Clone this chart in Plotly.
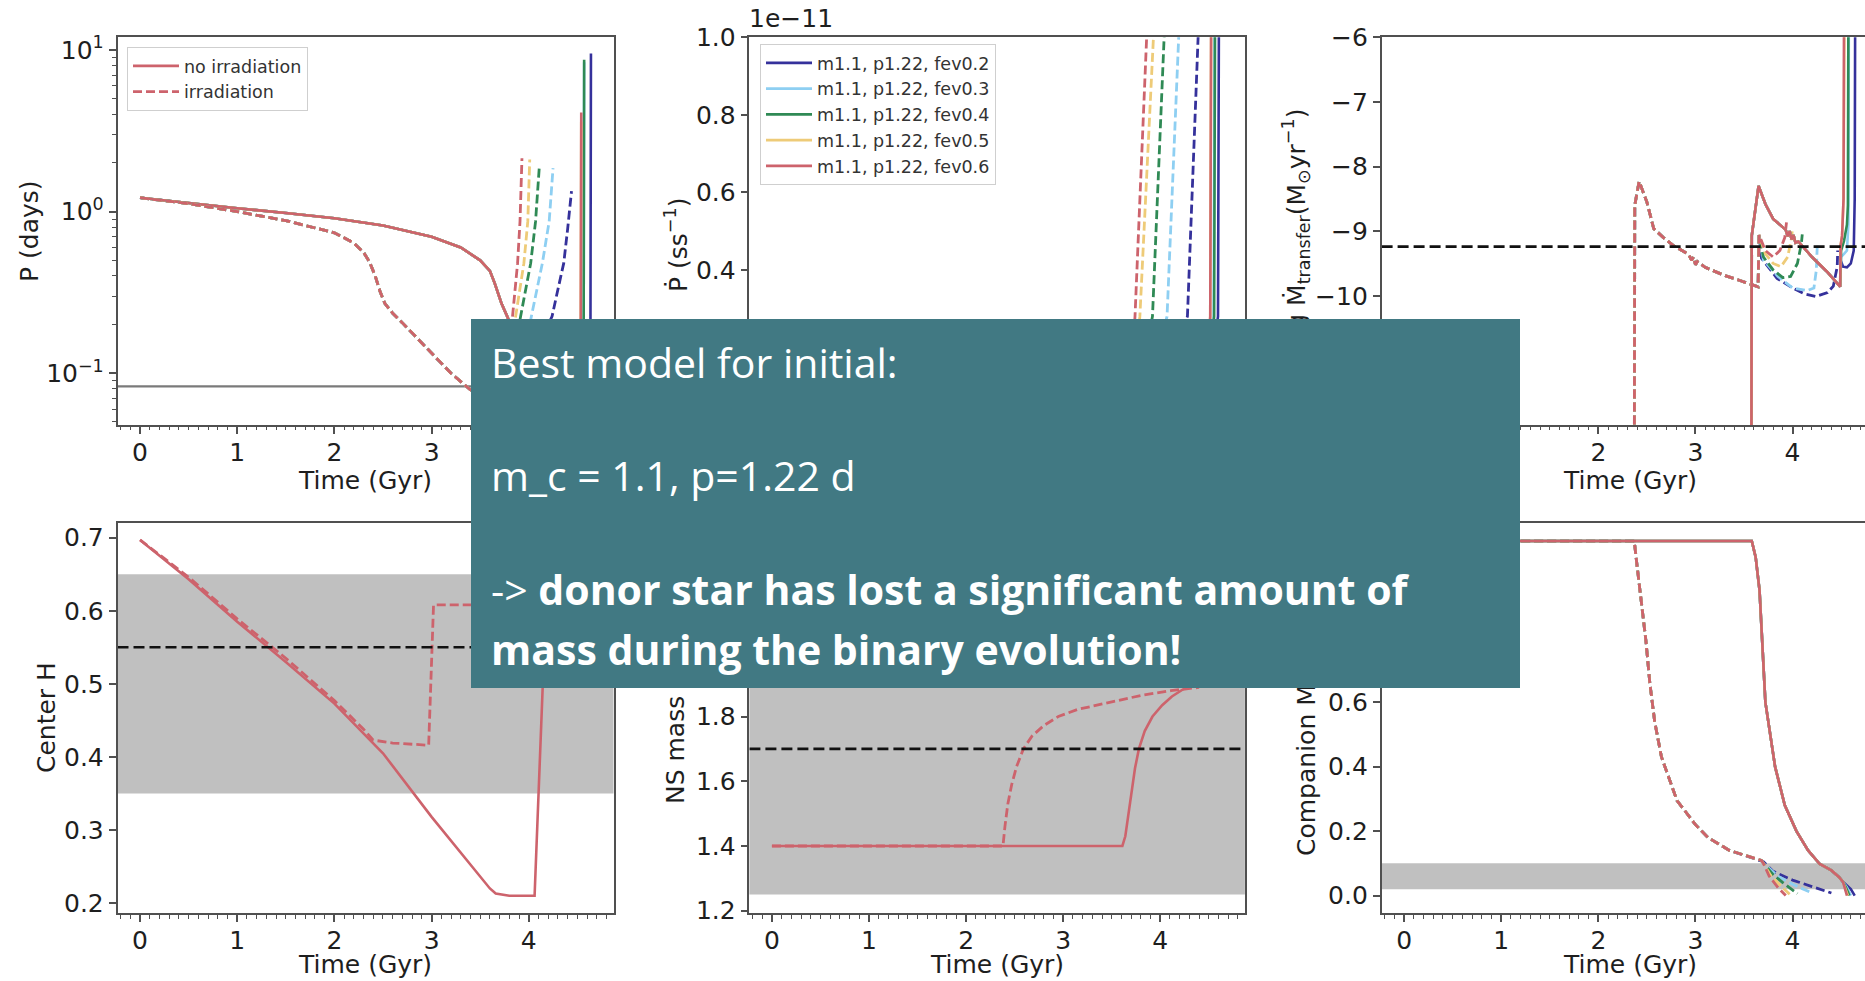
import plotly.graph_objects as go

# ------------------------------------------------------------------ data --
FEV_NAMES = ["m1.1, p1.22, fev0.2", "m1.1, p1.22, fev0.3", "m1.1, p1.22, fev0.4",
             "m1.1, p1.22, fev0.5", "m1.1, p1.22, fev0.6"]
FEV_COLORS = ["#35319b", "#8ecff2", "#2f8a55", "#eecb78", "#cd636c"]
RED = FEV_COLORS[-1]

X_TICKS = [0, 1, 2, 3, 4]

# Orbital period P (days); shared track followed by one tail per fev model
P_NOIRR_T = [0.0, 0.5, 1.0, 1.5, 2.0, 2.5, 3.0, 3.3, 3.5, 3.6, 3.65, 3.72, 3.8, 3.9, 4.0, 4.2, 4.4, 4.5]
P_NOIRR_V = [1.22, 1.13, 1.05, 0.98, 0.91, 0.82, 0.70, 0.60, 0.50, 0.43, 0.36, 0.27, 0.21, 0.18, 0.17, 0.165, 0.17, 0.18]
P_NOIRR_TAIL_T = [[4.635, 4.64], [4.565, 4.57], [4.565, 4.57], [4.535, 4.54], [4.535, 4.54]]
P_NOIRR_TAIL_V = [[0.21, 9.5], [0.21, 8.4], [0.21, 8.7], [0.21, 3.6], [0.21, 4.1]]

P_IRR_T = [0.0, 0.5, 1.0, 1.5, 2.0, 2.2, 2.3, 2.36, 2.42, 2.47, 2.52, 2.6, 2.7, 2.8, 3.0, 3.2, 3.4, 3.55, 3.65]
P_IRR_V = [1.22, 1.12, 1.0, 0.88, 0.74, 0.64, 0.56, 0.49, 0.40, 0.32, 0.27, 0.235, 0.205, 0.178, 0.134, 0.10, 0.079, 0.072, 0.07]
P_IRR_TAIL_T = [[3.9, 4.1, 4.24, 4.30, 4.36, 4.40, 4.43, 4.44],
                [3.8, 3.95, 4.02, 4.14, 4.21, 4.25],
                [3.75, 3.85, 3.91, 4.02, 4.07, 4.11],
                [3.72, 3.8, 3.86, 3.95, 3.99, 4.01],
                [3.7, 3.78, 3.83, 3.885, 3.91, 3.93]]
P_IRR_TAIL_V = [[0.09, 0.15, 0.225, 0.33, 0.48, 0.78, 1.24, 1.34],
                [0.09, 0.16, 0.215, 0.48, 0.87, 1.86],
                [0.09, 0.16, 0.215, 0.48, 0.87, 1.95],
                [0.09, 0.16, 0.215, 0.48, 0.87, 2.1],
                [0.09, 0.16, 0.215, 0.48, 0.87, 2.14]]
P_REFERENCE = 0.083

# Period derivative (units of 1e-11 s/s)
PDOT_NOIRR_T = [[4.45, 4.595, 4.605], [4.45, 4.55, 4.56], [4.45, 4.555, 4.565],
                [4.45, 4.515, 4.525], [4.45, 4.515, 4.525]]
PDOT_NOIRR_V = [[0.0, 0.28, 1.1], [0.0, 0.28, 1.1], [0.0, 0.28, 1.1],
                [0.0, 0.28, 1.1], [0.0, 0.28, 1.1]]
PDOT_IRR_T = [[3.80, 4.28, 4.39, 4.41], [3.75, 4.07, 4.19, 4.21], [3.70, 3.92, 4.04, 4.06],
              [3.68, 3.79, 3.93, 3.95], [3.66, 3.74, 3.86, 3.88]]
PDOT_IRR_V = [[0.0, 0.28, 1.0, 1.1], [0.0, 0.28, 1.0, 1.1], [0.0, 0.28, 1.0, 1.1],
              [0.0, 0.28, 1.0, 1.1], [0.0, 0.28, 1.0, 1.1]]

# log10 mass-transfer rate (Msun/yr)
MDOT_NOIRR_T = [3.575, 3.58, 3.65, 3.72, 3.80, 3.87, 3.93, 3.95, 3.97, 3.99, 4.01, 4.03, 4.06, 4.2, 4.35, 4.49]
MDOT_NOIRR_V = [-13.0, -9.07, -8.30, -8.58, -8.81, -8.91, -8.98, -9.08, -9.0, -9.13, -9.06, -9.18, -9.16, -9.4, -9.62, -9.86]
MDOT_NOIRR_TAIL_T = [[4.495, 4.52, 4.56, 4.60, 4.63, 4.64, 4.645],
                     [4.50, 4.53, 4.56, 4.575, 4.58],
                     [4.50, 4.53, 4.56, 4.57, 4.575],
                     [4.495, 4.51, 4.525, 4.535],
                     [4.495, 4.51, 4.525, 4.53]]
MDOT_NOIRR_TAIL_V = [[-9.45, -9.55, -9.56, -9.5, -9.3, -8.5, -5.5],
                     [-9.4, -9.35, -9.3, -8.9, -5.5],
                     [-9.3, -9.15, -8.9, -8.6, -5.5],
                     [-9.22, -9.07, -8.5, -5.5],
                     [-9.22, -9.07, -8.5, -5.5]]
MDOT_IRR_T = [2.37, 2.375, 2.42, 2.46, 2.5, 2.57, 2.67, 2.77, 2.87, 2.93, 2.96, 2.98, 3.0, 3.02, 3.1, 3.29, 3.45, 3.645]
MDOT_IRR_V = [-13.0, -8.6, -8.23, -8.38, -8.55, -8.96, -9.1, -9.22, -9.3, -9.36, -9.45, -9.40, -9.52, -9.47, -9.56, -9.68, -9.76, -9.86]
MDOT_IRR_TAIL_T = [[3.655, 3.68, 3.84, 4.0, 4.12, 4.24, 4.36, 4.42, 4.46, 4.465],
                   [3.655, 3.70, 3.85, 4.0, 4.15, 4.22, 4.245, 4.255],
                   [3.655, 3.70, 3.8, 3.9, 3.98, 4.05, 4.09, 4.10],
                   [3.655, 3.72, 3.8, 3.88, 3.95, 3.99, 4.0],
                   [3.655, 3.72, 3.8, 3.87, 3.92, 3.94]]
MDOT_IRR_TAIL_V = [[-9.06, -9.42, -9.73, -9.88, -9.97, -10.01, -9.95, -9.85, -9.55, -9.3],
                   [-9.06, -9.45, -9.7, -9.88, -9.92, -9.88, -9.6, -9.2],
                   [-9.06, -9.4, -9.6, -9.72, -9.7, -9.5, -9.2, -9.05],
                   [-9.06, -9.35, -9.5, -9.55, -9.4, -9.1, -8.95],
                   [-9.06, -9.3, -9.4, -9.3, -9.1, -8.83]]
MDOT_REFERENCE = -9.24

# Central hydrogen fraction of the donor
H_NOIRR_T = [0.0, 0.5, 1.0, 1.5, 2.0, 2.5, 3.0, 3.5, 3.6, 3.66, 3.8, 4.06, 4.1, 4.14, 4.2]
H_NOIRR_V = [0.697, 0.643, 0.585, 0.530, 0.473, 0.405, 0.318, 0.236, 0.220, 0.213, 0.210, 0.210, 0.354, 0.49, 0.69]
H_IRR_T = [0.0, 0.5, 1.0, 1.5, 2.0, 2.3, 2.4, 2.6, 2.97, 3.02, 3.4, 4.0]
H_IRR_V = [0.697, 0.646, 0.589, 0.535, 0.477, 0.438, 0.423, 0.419, 0.416, 0.608, 0.608, 0.61]
H_BAND = [0.35, 0.65]
H_REFERENCE = 0.55

# Neutron-star mass (Msun)
NS_NOIRR_T = [0.0, 3.61, 3.64, 3.67, 3.70, 3.74, 3.78, 3.84, 3.92, 4.02, 4.12, 4.24, 4.4, 4.55]
NS_NOIRR_V = [1.4, 1.4, 1.43, 1.49, 1.56, 1.64, 1.70, 1.755, 1.80, 1.835, 1.862, 1.885, 1.92, 1.95]
NS_IRR_T = [0.0, 2.38, 2.40, 2.43, 2.47, 2.52, 2.59, 2.68, 2.8, 2.95, 3.15, 3.48, 3.8, 4.11, 4.4]
NS_IRR_V = [1.4, 1.4, 1.46, 1.53, 1.59, 1.645, 1.70, 1.74, 1.772, 1.80, 1.822, 1.845, 1.865, 1.88, 1.89]
NS_BAND = [1.25, 2.397]
NS_REFERENCE = 1.7

# Companion mass (Msun)
MC_NOIRR_T = [0.0, 3.58, 3.62, 3.66, 3.72, 3.82, 3.92, 4.04, 4.16, 4.28, 4.40, 4.48, 4.52]
MC_NOIRR_V = [1.1, 1.1, 1.05, 0.947, 0.6, 0.4, 0.28, 0.2, 0.14, 0.098, 0.078, 0.057, 0.042]
MC_NOIRR_TAIL_T = [[4.56, 4.60, 4.64], [4.56, 4.60], [4.55, 4.585], [4.545, 4.57], [4.54, 4.56]]
MC_NOIRR_TAIL_V = [[0.032, 0.02, 0.0], [0.025, 0.0], [0.025, 0.0], [0.022, 0.0], [0.02, 0.0]]
MC_IRR_T = [0.0, 2.37, 2.40, 2.43, 2.46, 2.49, 2.53, 2.58, 2.65, 2.81, 3.0, 3.13, 3.35, 3.56, 3.68]
MC_IRR_V = [1.1, 1.1, 1.02, 0.947, 0.87, 0.79, 0.66, 0.54, 0.43, 0.295, 0.22, 0.18, 0.14, 0.119, 0.109]
MC_IRR_TAIL_T = [[3.70, 3.8, 4.0, 4.2, 4.4], [3.70, 3.85, 4.0, 4.15, 4.2],
                 [3.70, 3.8, 3.9, 4.0, 4.05], [3.70, 3.78, 3.88, 3.97], [3.70, 3.76, 3.85, 3.93]]
MC_IRR_TAIL_V = [[0.105, 0.075, 0.048, 0.028, 0.008], [0.1, 0.06, 0.035, 0.015, 0.008],
                 [0.1, 0.065, 0.04, 0.018, 0.006], [0.1, 0.06, 0.03, 0.004], [0.1, 0.06, 0.025, 0.0]]
MC_BAND = [0.02, 0.1]

# ---------------------------------------------------------------- layout --
W, H = 1865, 981
AX_LINE = "#505050"
TICK_FONT = dict(family="DejaVu Sans", size=25, color="#1e1e1e")
LABEL_FONT = dict(family="DejaVu Sans", size=25, color="#1e1e1e")
LEGEND_FONT = dict(family="DejaVu Sans", size=17.5, color="#333333")
SOLID_W, DASH_W = 2.6, 2.8
DASH = "9px,4px"
REF_DASH = "11px,5px"


def px_x(v):
    return v / W


def px_y(v):
    return 1 - v / H


COL_X = [(117.5, 613.5), (749.4, 1244.9), (1381.6, W)]
ROW_Y = [(37.3, 425.0), (523.3, 913.3)]
X_RANGE = [-0.232, 4.872]
X_RANGE_EDGE = [-0.232, 4.746]

fig = go.Figure()


def xref(i):
    return "x" if i == 1 else f"x{i}"


def yref(i):
    return "y" if i == 1 else f"y{i}"


def line_trace(i, t, v, color, dash=None, width=SOLID_W, **kw):
    fig.add_trace(go.Scatter(
        x=t, y=v, mode="lines", xaxis=xref(i), yaxis=yref(i),
        line=dict(color=color, width=width, dash=dash),
        hoverinfo="skip", showlegend=kw.pop("showlegend", False), **kw))


def hline(i, value, color="#111111", dash=REF_DASH, width=2.6):
    rng = X_RANGE_EDGE if i in (3, 6) else X_RANGE
    fig.add_trace(go.Scatter(
        x=rng, y=[value, value], mode="lines", xaxis=xref(i), yaxis=yref(i),
        line=dict(color=color, width=width, dash=dash), hoverinfo="skip", showlegend=False))


def band(i, lo, hi):
    fig.add_shape(type="rect", xref=f"{xref(i)} domain", yref=yref(i),
                  x0=0, x1=1, y0=lo, y1=hi, fillcolor="#c0c0c0",
                  line=dict(width=0), layer="below")


# shaded observational ranges
band(4, *H_BAND)
band(5, *NS_BAND)
band(6, *MC_BAND)

# panel 1: orbital period
hline(1, P_REFERENCE, color="#7a7a7a", dash=None, width=2.2)
for k in range(5):
    last = k == 4
    line_trace(1, P_NOIRR_T + P_NOIRR_TAIL_T[k], P_NOIRR_V + P_NOIRR_TAIL_V[k], FEV_COLORS[k],
               name="no irradiation", showlegend=last, legend="legend", legendrank=1)
for k in range(5):
    last = k == 4
    line_trace(1, P_IRR_T + P_IRR_TAIL_T[k], P_IRR_V + P_IRR_TAIL_V[k], FEV_COLORS[k],
               dash=DASH, width=DASH_W,
               name="irradiation", showlegend=last, legend="legend", legendrank=2)

# panel 2: period derivative
for k in range(5):
    line_trace(2, PDOT_NOIRR_T[k], PDOT_NOIRR_V[k], FEV_COLORS[k],
               name=FEV_NAMES[k], showlegend=True, legend="legend2", legendrank=k + 1)
for k in range(5):
    line_trace(2, PDOT_IRR_T[k], PDOT_IRR_V[k], FEV_COLORS[k], dash=DASH, width=DASH_W)

# panel 3: mass-transfer rate
for k in range(5):
    line_trace(3, MDOT_IRR_T + MDOT_IRR_TAIL_T[k], MDOT_IRR_V + MDOT_IRR_TAIL_V[k],
               FEV_COLORS[k], dash=DASH, width=DASH_W)
for k in range(5):
    line_trace(3, MDOT_NOIRR_T + MDOT_NOIRR_TAIL_T[k], MDOT_NOIRR_V + MDOT_NOIRR_TAIL_V[k],
               FEV_COLORS[k])
hline(3, MDOT_REFERENCE)

# panel 4: central hydrogen
line_trace(4, H_IRR_T, H_IRR_V, RED, dash=DASH, width=DASH_W)
line_trace(4, H_NOIRR_T, H_NOIRR_V, RED)
hline(4, H_REFERENCE)

# panel 5: neutron-star mass
line_trace(5, NS_IRR_T, NS_IRR_V, RED, dash=DASH, width=DASH_W)
line_trace(5, NS_NOIRR_T, NS_NOIRR_V, RED)
hline(5, NS_REFERENCE)

# panel 6: companion mass
for k in range(5):
    line_trace(6, MC_IRR_T + MC_IRR_TAIL_T[k], MC_IRR_V + MC_IRR_TAIL_V[k],
               FEV_COLORS[k], dash=DASH, width=DASH_W)
for k in range(5):
    line_trace(6, MC_NOIRR_T + MC_NOIRR_TAIL_T[k], MC_NOIRR_V + MC_NOIRR_TAIL_V[k],
               FEV_COLORS[k])


def axis_base():
    return dict(showline=True, mirror=True, linecolor=AX_LINE, linewidth=1.5,
                ticks="outside", ticklen=7, tickwidth=1.5, tickcolor=AX_LINE,
                tickfont=TICK_FONT, showgrid=False, zeroline=False, automargin=False)


def x_axis(col, row, anchor):
    d = axis_base()
    d.update(domain=[px_x(COL_X[col][0]), px_x(COL_X[col][1])],
             range=X_RANGE_EDGE if col == 2 else X_RANGE, anchor=anchor,
             tickmode="array", tickvals=X_TICKS, ticklabelstandoff=-3,
             minor=dict(ticks="outside", ticklen=3.5, tickwidth=1, tickcolor=AX_LINE,
                        tickmode="linear", tick0=0, dtick=0.1, showgrid=False))
    return d


def y_axis(col, row, anchor, **kw):
    d = axis_base()
    d.update(domain=[px_y(ROW_Y[row][1]), px_y(ROW_Y[row][0])], anchor=anchor)
    d.update(kw)
    return d


P_MINOR = [0.05, 0.06, 0.07, 0.08, 0.09, 0.2, 0.3, 0.4, 0.5, 0.6, 0.7, 0.8, 0.9,
           2, 3, 4, 5, 6, 7, 8, 9]

layout = dict(
    width=W, height=H, margin=dict(l=0, r=0, t=0, b=0, autoexpand=False),
    paper_bgcolor="white", plot_bgcolor="white",
    xaxis=x_axis(0, 0, "y"), xaxis2=x_axis(1, 0, "y2"), xaxis3=x_axis(2, 0, "y3"),
    xaxis4=x_axis(0, 1, "y4"), xaxis5=x_axis(1, 1, "y5"), xaxis6=x_axis(2, 1, "y6"),
    yaxis=y_axis(0, 0, "x", type="log", range=[-1.32, 1.0785],
                 tickmode="array", tickvals=[0.1, 1, 10],
                 ticktext=["10<sup>−1</sup>", "10<sup>0</sup>", "10<sup>1</sup>"],
                 minor=dict(ticks="outside", ticklen=3.5, tickwidth=1, tickcolor=AX_LINE,
                            tickmode="array", tickvals=P_MINOR, showgrid=False)),
    yaxis2=y_axis(1, 0, "x2", range=[0, 1.0], tick0=0, dtick=0.2, tickformat=".1f"),
    yaxis3=y_axis(2, 0, "x3", range=[-12, -6], tick0=-12, dtick=1),
    yaxis4=y_axis(0, 1, "x4", range=[0.186, 0.7197], tick0=0.2, dtick=0.1, tickformat=".1f"),
    yaxis5=y_axis(1, 1, "x5", range=[1.192, 2.397], tick0=1.2, dtick=0.2, tickformat=".1f"),
    yaxis6=y_axis(2, 1, "x6", range=[-0.055, 1.155], tick0=0, dtick=0.2, tickformat=".1f"),
    legend=dict(x=px_x(127), y=px_y(47), xanchor="left", yanchor="top",
                bgcolor="rgba(255,255,255,0.85)", bordercolor="#cfcfcf", borderwidth=1,
                font=LEGEND_FONT, itemwidth=46, tracegroupgap=0),
    legend2=dict(x=px_x(760), y=px_y(44), xanchor="left", yanchor="top",
                 bgcolor="rgba(255,255,255,0.85)", bordercolor="#cfcfcf", borderwidth=1,
                 font=LEGEND_FONT, itemwidth=46, tracegroupgap=0),
)
fig.update_layout(**layout)

annotations = []


def text(x, y, s, font=LABEL_FONT, angle=0, xanchor="center", yanchor="middle"):
    annotations.append(dict(x=px_x(x), y=px_y(y), xref="paper", yref="paper", text=s,
                            showarrow=False, font=font, textangle=angle,
                            xanchor=xanchor, yanchor=yanchor))


# axis titles
for cx, cy in [(365, 481), (1630, 481), (365, 964), (997, 964), (1630, 964)]:
    text(cx, cy, "Time (Gyr)")
text(29, 231, "P (days)", angle=-90)
text(46, 718, "Center H", angle=-90)
text(677, 245, "Ṗ (ss<sup>−1</sup>)", angle=-90)
text(677, 718, "NS mass (M<sub>⊙</sub>)", angle=-90)
text(1296, 231, "log Ṁ<sub>transfer</sub>(M<sub>⊙</sub>yr<sup>−1</sup>)", angle=-90)
text(1308, 718, "Companion Mass (M<sub>⊙</sub>)", angle=-90)
text(791, 18, "1e−11", font=TICK_FONT)

# summary box over the panels
BOX_L, BOX_T, BOX_R, BOX_B = 471, 319, 1520, 688
annotations.append(dict(x=px_x(BOX_L), y=px_y(BOX_T), xref="paper", yref="paper",
                        text=" ", showarrow=False, xanchor="left", yanchor="top",
                        width=BOX_R - BOX_L, height=BOX_B - BOX_T,
                        bgcolor="#417983", borderpad=0, borderwidth=0))

BOX_FONT = dict(family="Open Sans", size=41, color="white")
for y, s in [(362, "Best model for initial:"),
             (475, "m_c = 1.1, p=1.22 d"),
             (589, "-> <b>donor star has lost a significant amount of</b>"),
             (649, "<b>mass during the binary evolution!</b>")]:
    text(489, y, s, font=BOX_FONT, xanchor="left")

fig.update_layout(annotations=annotations)
fig.write_html("out.html")
